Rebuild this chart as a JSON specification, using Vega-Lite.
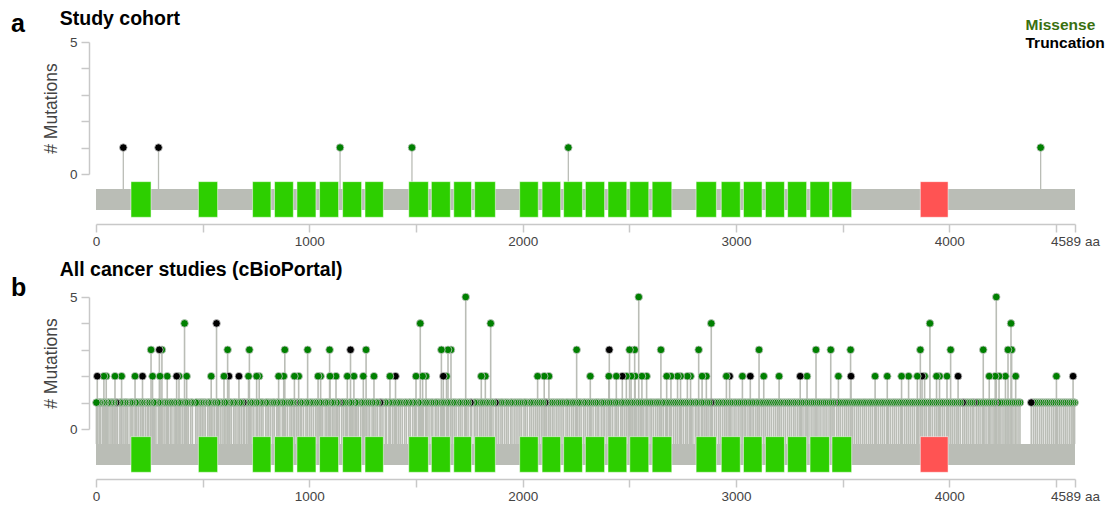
{
  "$schema": "https://vega.github.io/schema/vega-lite/v6.json",
  "padding": {"left": 11, "top": 9, "right": 4, "bottom": 2},
  "config": {
    "font": "Liberation Sans",
    "view": {"stroke": null},
    "axis": {
      "grid": false,
      "domainColor": "#c8c8c8",
      "domainWidth": 1.5,
      "tickColor": "#c8c8c8",
      "tickWidth": 1.5,
      "tickSize": 8,
      "labelColor": "#444444",
      "labelFontSize": 13.5,
      "labelFlush": false,
      "labelOverlap": false,
      "titleColor": "#444444",
      "titleFontSize": 17.5,
      "titleFontWeight": "normal"
    },
    "legend": {
      "orient": "none", "legendX": 914, "legendY": -25, "title": null,
      "symbolSize": 0, "symbolStrokeWidth": 0, "symbolOpacity": 0, "labelOffset": 0,
      "labelFontSize": 15.5, "labelFontWeight": "bold", "rowPadding": 1.3,
      "labelColor": {"expr": "datum.label == 'Missense' ? '#3a7010' : '#000000'"}
    },
    "title": {"anchor": "start", "frame": "group", "color": "#000000", "fontSize": 25, "fontWeight": "bold", "subtitleColor": "#000000", "subtitleFontSize": 19.5, "subtitleFontWeight": "bold", "subtitleFont": "Liberation Sans"}
  },
  "datasets": {
    "protein": [{"start": 0, "end": 4589}],
    "domains": [
      {"start": 164, "end": 258, "domain": "Cadherin"},
      {"start": 480, "end": 570, "domain": "Cadherin"},
      {"start": 734, "end": 820, "domain": "Cadherin"},
      {"start": 837, "end": 925, "domain": "Cadherin"},
      {"start": 942, "end": 1031, "domain": "Cadherin"},
      {"start": 1048, "end": 1137, "domain": "Cadherin"},
      {"start": 1156, "end": 1245, "domain": "Cadherin"},
      {"start": 1261, "end": 1347, "domain": "Cadherin"},
      {"start": 1466, "end": 1558, "domain": "Cadherin"},
      {"start": 1572, "end": 1661, "domain": "Cadherin"},
      {"start": 1677, "end": 1760, "domain": "Cadherin"},
      {"start": 1775, "end": 1872, "domain": "Cadherin"},
      {"start": 1986, "end": 2073, "domain": "Cadherin"},
      {"start": 2091, "end": 2178, "domain": "Cadherin"},
      {"start": 2192, "end": 2280, "domain": "Cadherin"},
      {"start": 2294, "end": 2384, "domain": "Cadherin"},
      {"start": 2400, "end": 2488, "domain": "Cadherin"},
      {"start": 2502, "end": 2591, "domain": "Cadherin"},
      {"start": 2607, "end": 2699, "domain": "Cadherin"},
      {"start": 2813, "end": 2908, "domain": "Cadherin"},
      {"start": 2931, "end": 3020, "domain": "Cadherin"},
      {"start": 3035, "end": 3122, "domain": "Cadherin"},
      {"start": 3138, "end": 3227, "domain": "Cadherin"},
      {"start": 3242, "end": 3331, "domain": "Cadherin"},
      {"start": 3347, "end": 3438, "domain": "Cadherin"},
      {"start": 3450, "end": 3542, "domain": "Cadherin"},
      {"start": 3864, "end": 3994, "domain": "Laminin_G_2"}
    ],
    "cohort": [
      {"p": 128, "n": 1, "t": "Truncation"},
      {"p": 293, "n": 1, "t": "Truncation"},
      {"p": 1144, "n": 1, "t": "Missense"},
      {"p": 1481, "n": 1, "t": "Missense"},
      {"p": 2214, "n": 1, "t": "Missense"},
      {"p": 4428, "n": 1, "t": "Missense"}
    ],
    "cbio": [
      {"p":1733,"n":5,"t":"Missense"},{"p":2544,"n":5,"t":"Missense"},{"p":4220,"n":5,"t":"Missense"},
      {"p":415,"n":4,"t":"Missense"},{"p":565,"n":4,"t":"Truncation"},{"p":1520,"n":4,"t":"Missense"},{"p":1850,"n":4,"t":"Missense"},{"p":2884,"n":4,"t":"Missense"},{"p":3909,"n":4,"t":"Missense"},{"p":4289,"n":4,"t":"Missense"},
      {"p":258,"n":3,"t":"Missense"},{"p":297,"n":3,"t":"Truncation"},{"p":309,"n":3,"t":"Missense"},{"p":617,"n":3,"t":"Missense"},{"p":719,"n":3,"t":"Missense"},{"p":885,"n":3,"t":"Missense"},{"p":992,"n":3,"t":"Missense"},{"p":1095,"n":3,"t":"Missense"},{"p":1193,"n":3,"t":"Truncation"},{"p":1266,"n":3,"t":"Missense"},{"p":1619,"n":3,"t":"Missense"},{"p":1650,"n":3,"t":"Missense"},{"p":1664,"n":3,"t":"Missense"},{"p":2253,"n":3,"t":"Missense"},{"p":2406,"n":3,"t":"Truncation"},{"p":2501,"n":3,"t":"Missense"},{"p":2525,"n":3,"t":"Missense"},{"p":2648,"n":3,"t":"Missense"},{"p":2825,"n":3,"t":"Missense"},{"p":3108,"n":3,"t":"Missense"},{"p":3375,"n":3,"t":"Missense"},{"p":3444,"n":3,"t":"Missense"},{"p":3537,"n":3,"t":"Missense"},{"p":3864,"n":3,"t":"Missense"},{"p":4006,"n":3,"t":"Missense"},{"p":4159,"n":3,"t":"Missense"},{"p":4275,"n":3,"t":"Missense"},{"p":4292,"n":3,"t":"Missense"},
      {"p":6,"n":2,"t":"Truncation"},{"p":37,"n":2,"t":"Missense"},{"p":48,"n":2,"t":"Missense"},{"p":89,"n":2,"t":"Missense"},{"p":120,"n":2,"t":"Missense"},{"p":183,"n":2,"t":"Missense"},{"p":218,"n":2,"t":"Truncation"},{"p":265,"n":2,"t":"Missense"},{"p":300,"n":2,"t":"Missense"},{"p":334,"n":2,"t":"Missense"},{"p":378,"n":2,"t":"Truncation"},{"p":389,"n":2,"t":"Missense"},{"p":425,"n":2,"t":"Missense"},{"p":540,"n":2,"t":"Missense"},{"p":600,"n":2,"t":"Missense"},{"p":623,"n":2,"t":"Truncation"},{"p":670,"n":2,"t":"Truncation"},{"p":715,"n":2,"t":"Missense"},{"p":753,"n":2,"t":"Missense"},{"p":765,"n":2,"t":"Missense"},{"p":856,"n":2,"t":"Missense"},{"p":880,"n":2,"t":"Missense"},{"p":930,"n":2,"t":"Missense"},{"p":950,"n":2,"t":"Missense"},{"p":1041,"n":2,"t":"Missense"},{"p":1053,"n":2,"t":"Missense"},{"p":1097,"n":2,"t":"Missense"},{"p":1125,"n":2,"t":"Missense"},{"p":1178,"n":2,"t":"Missense"},{"p":1209,"n":2,"t":"Missense"},{"p":1253,"n":2,"t":"Missense"},{"p":1303,"n":2,"t":"Missense"},{"p":1378,"n":2,"t":"Missense"},{"p":1404,"n":2,"t":"Truncation"},{"p":1500,"n":2,"t":"Missense"},{"p":1531,"n":2,"t":"Missense"},{"p":1547,"n":2,"t":"Missense"},{"p":1628,"n":2,"t":"Truncation"},{"p":1643,"n":2,"t":"Missense"},{"p":1806,"n":2,"t":"Missense"},{"p":1825,"n":2,"t":"Missense"},{"p":2070,"n":2,"t":"Missense"},{"p":2101,"n":2,"t":"Missense"},{"p":2123,"n":2,"t":"Missense"},{"p":2317,"n":2,"t":"Missense"},{"p":2404,"n":2,"t":"Missense"},{"p":2439,"n":2,"t":"Missense"},{"p":2467,"n":2,"t":"Truncation"},{"p":2486,"n":2,"t":"Missense"},{"p":2508,"n":2,"t":"Missense"},{"p":2527,"n":2,"t":"Missense"},{"p":2559,"n":2,"t":"Missense"},{"p":2581,"n":2,"t":"Missense"},{"p":2675,"n":2,"t":"Missense"},{"p":2695,"n":2,"t":"Missense"},{"p":2726,"n":2,"t":"Missense"},{"p":2740,"n":2,"t":"Missense"},{"p":2772,"n":2,"t":"Missense"},{"p":2787,"n":2,"t":"Missense"},{"p":2841,"n":2,"t":"Missense"},{"p":2861,"n":2,"t":"Missense"},{"p":2955,"n":2,"t":"Missense"},{"p":2970,"n":2,"t":"Truncation"},{"p":3030,"n":2,"t":"Missense"},{"p":3067,"n":2,"t":"Truncation"},{"p":3130,"n":2,"t":"Missense"},{"p":3202,"n":2,"t":"Missense"},{"p":3301,"n":2,"t":"Truncation"},{"p":3333,"n":2,"t":"Missense"},{"p":3480,"n":2,"t":"Missense"},{"p":3539,"n":2,"t":"Truncation"},{"p":3652,"n":2,"t":"Missense"},{"p":3709,"n":2,"t":"Missense"},{"p":3776,"n":2,"t":"Missense"},{"p":3809,"n":2,"t":"Missense"},{"p":3850,"n":2,"t":"Missense"},{"p":3872,"n":2,"t":"Truncation"},{"p":3884,"n":2,"t":"Missense"},{"p":3940,"n":2,"t":"Missense"},{"p":3954,"n":2,"t":"Missense"},{"p":3989,"n":2,"t":"Missense"},{"p":4041,"n":2,"t":"Truncation"},{"p":4187,"n":2,"t":"Missense"},{"p":4215,"n":2,"t":"Missense"},{"p":4233,"n":2,"t":"Missense"},{"p":4263,"n":2,"t":"Missense"},{"p":4311,"n":2,"t":"Missense"},{"p":4502,"n":2,"t":"Missense"},{"p":4580,"n":2,"t":"Truncation"},
      {"p":2,"n":1,"t":"Missense"},{"p":9,"n":1,"t":"Missense"},{"p":17,"n":1,"t":"Missense"},{"p":21,"n":1,"t":"Missense"},{"p":30,"n":1,"t":"Missense"},{"p":38,"n":1,"t":"Missense"},{"p":44,"n":1,"t":"Missense"},{"p":55,"n":1,"t":"Missense"},{"p":61,"n":1,"t":"Missense"},{"p":70,"n":1,"t":"Missense"},{"p":76,"n":1,"t":"Missense"},{"p":84,"n":1,"t":"Missense"},{"p":94,"n":1,"t":"Truncation"},{"p":101,"n":1,"t":"Missense"},{"p":112,"n":1,"t":"Missense"},{"p":118,"n":1,"t":"Missense"},{"p":127,"n":1,"t":"Missense"},{"p":136,"n":1,"t":"Missense"},{"p":141,"n":1,"t":"Missense"},{"p":149,"n":1,"t":"Missense"},{"p":160,"n":1,"t":"Missense"},{"p":168,"n":1,"t":"Missense"},{"p":173,"n":1,"t":"Missense"},{"p":185,"n":1,"t":"Missense"},{"p":191,"n":1,"t":"Missense"},{"p":199,"n":1,"t":"Missense"},{"p":208,"n":1,"t":"Missense"},{"p":216,"n":1,"t":"Missense"},{"p":222,"n":1,"t":"Missense"},{"p":231,"n":1,"t":"Missense"},{"p":240,"n":1,"t":"Missense"},{"p":247,"n":1,"t":"Missense"},{"p":255,"n":1,"t":"Missense"},{"p":268,"n":1,"t":"Missense"},{"p":274,"n":1,"t":"Missense"},{"p":281,"n":1,"t":"Missense"},{"p":292,"n":1,"t":"Missense"},{"p":299,"n":1,"t":"Missense"},{"p":305,"n":1,"t":"Missense"},{"p":314,"n":1,"t":"Missense"},{"p":323,"n":1,"t":"Missense"},{"p":331,"n":1,"t":"Missense"},{"p":340,"n":1,"t":"Missense"},{"p":349,"n":1,"t":"Missense"},{"p":356,"n":1,"t":"Missense"},{"p":366,"n":1,"t":"Missense"},{"p":373,"n":1,"t":"Missense"},{"p":384,"n":1,"t":"Missense"},{"p":392,"n":1,"t":"Missense"},{"p":398,"n":1,"t":"Missense"},{"p":407,"n":1,"t":"Missense"},{"p":418,"n":1,"t":"Missense"},{"p":426,"n":1,"t":"Missense"},{"p":433,"n":1,"t":"Missense"},{"p":444,"n":1,"t":"Missense"},{"p":452,"n":1,"t":"Missense"},{"p":467,"n":1,"t":"Missense"},{"p":474,"n":1,"t":"Missense"},{"p":483,"n":1,"t":"Missense"},{"p":491,"n":1,"t":"Missense"},{"p":498,"n":1,"t":"Missense"},
      {"p":506,"n":1,"t":"Missense"},{"p":513,"n":1,"t":"Missense"},{"p":524,"n":1,"t":"Missense"},{"p":531,"n":1,"t":"Missense"},{"p":539,"n":1,"t":"Missense"},{"p":548,"n":1,"t":"Missense"},{"p":556,"n":1,"t":"Missense"},{"p":568,"n":1,"t":"Missense"},{"p":573,"n":1,"t":"Missense"},{"p":582,"n":1,"t":"Missense"},{"p":591,"n":1,"t":"Missense"},{"p":603,"n":1,"t":"Missense"},{"p":609,"n":1,"t":"Missense"},{"p":616,"n":1,"t":"Missense"},{"p":627,"n":1,"t":"Missense"},{"p":634,"n":1,"t":"Missense"},{"p":645,"n":1,"t":"Missense"},{"p":652,"n":1,"t":"Missense"},{"p":661,"n":1,"t":"Missense"},{"p":673,"n":1,"t":"Missense"},{"p":681,"n":1,"t":"Missense"},{"p":690,"n":1,"t":"Truncation"},{"p":696,"n":1,"t":"Missense"},{"p":705,"n":1,"t":"Missense"},{"p":713,"n":1,"t":"Missense"},{"p":724,"n":1,"t":"Missense"},{"p":731,"n":1,"t":"Missense"},{"p":740,"n":1,"t":"Missense"},{"p":751,"n":1,"t":"Missense"},{"p":757,"n":1,"t":"Missense"},{"p":768,"n":1,"t":"Missense"},{"p":776,"n":1,"t":"Missense"},{"p":783,"n":1,"t":"Missense"},{"p":795,"n":1,"t":"Missense"},{"p":802,"n":1,"t":"Missense"},{"p":810,"n":1,"t":"Missense"},{"p":819,"n":1,"t":"Missense"},{"p":829,"n":1,"t":"Missense"},{"p":836,"n":1,"t":"Missense"},{"p":847,"n":1,"t":"Missense"},{"p":853,"n":1,"t":"Missense"},{"p":862,"n":1,"t":"Missense"},{"p":873,"n":1,"t":"Missense"},{"p":881,"n":1,"t":"Missense"},{"p":889,"n":1,"t":"Missense"},{"p":898,"n":1,"t":"Missense"},{"p":909,"n":1,"t":"Missense"},{"p":916,"n":1,"t":"Missense"},{"p":924,"n":1,"t":"Missense"},{"p":930,"n":1,"t":"Truncation"},{"p":939,"n":1,"t":"Missense"},{"p":947,"n":1,"t":"Missense"},{"p":958,"n":1,"t":"Missense"},{"p":964,"n":1,"t":"Missense"},{"p":973,"n":1,"t":"Missense"},{"p":984,"n":1,"t":"Missense"},{"p":991,"n":1,"t":"Missense"},
      {"p":1002,"n":1,"t":"Missense"},{"p":1010,"n":1,"t":"Missense"},{"p":1019,"n":1,"t":"Missense"},{"p":1029,"n":1,"t":"Missense"},{"p":1036,"n":1,"t":"Missense"},{"p":1047,"n":1,"t":"Missense"},{"p":1055,"n":1,"t":"Missense"},{"p":1063,"n":1,"t":"Missense"},{"p":1074,"n":1,"t":"Missense"},{"p":1082,"n":1,"t":"Missense"},{"p":1089,"n":1,"t":"Missense"},{"p":1101,"n":1,"t":"Missense"},{"p":1110,"n":1,"t":"Missense"},{"p":1116,"n":1,"t":"Missense"},{"p":1127,"n":1,"t":"Missense"},{"p":1133,"n":1,"t":"Missense"},{"p":1140,"n":1,"t":"Truncation"},{"p":1151,"n":1,"t":"Missense"},{"p":1159,"n":1,"t":"Missense"},{"p":1168,"n":1,"t":"Missense"},{"p":1175,"n":1,"t":"Missense"},{"p":1187,"n":1,"t":"Missense"},{"p":1196,"n":1,"t":"Missense"},{"p":1202,"n":1,"t":"Missense"},{"p":1215,"n":1,"t":"Missense"},{"p":1222,"n":1,"t":"Missense"},{"p":1229,"n":1,"t":"Missense"},{"p":1240,"n":1,"t":"Missense"},{"p":1248,"n":1,"t":"Missense"},{"p":1257,"n":1,"t":"Missense"},{"p":1266,"n":1,"t":"Missense"},{"p":1275,"n":1,"t":"Missense"},{"p":1283,"n":1,"t":"Missense"},{"p":1294,"n":1,"t":"Missense"},{"p":1301,"n":1,"t":"Missense"},{"p":1312,"n":1,"t":"Missense"},{"p":1320,"n":1,"t":"Missense"},{"p":1331,"n":1,"t":"Truncation"},{"p":1336,"n":1,"t":"Missense"},{"p":1345,"n":1,"t":"Missense"},{"p":1356,"n":1,"t":"Missense"},{"p":1362,"n":1,"t":"Missense"},{"p":1373,"n":1,"t":"Missense"},{"p":1381,"n":1,"t":"Missense"},{"p":1391,"n":1,"t":"Missense"},{"p":1399,"n":1,"t":"Missense"},{"p":1410,"n":1,"t":"Missense"},{"p":1419,"n":1,"t":"Missense"},{"p":1427,"n":1,"t":"Missense"},{"p":1436,"n":1,"t":"Missense"},{"p":1447,"n":1,"t":"Missense"},{"p":1455,"n":1,"t":"Missense"},{"p":1466,"n":1,"t":"Missense"},{"p":1473,"n":1,"t":"Missense"},{"p":1484,"n":1,"t":"Missense"},{"p":1492,"n":1,"t":"Missense"},
      {"p":1499,"n":1,"t":"Missense"},{"p":1511,"n":1,"t":"Missense"},{"p":1517,"n":1,"t":"Missense"},{"p":1526,"n":1,"t":"Missense"},{"p":1535,"n":1,"t":"Missense"},{"p":1545,"n":1,"t":"Missense"},{"p":1552,"n":1,"t":"Missense"},{"p":1561,"n":1,"t":"Missense"},{"p":1571,"n":1,"t":"Missense"},{"p":1579,"n":1,"t":"Missense"},{"p":1590,"n":1,"t":"Missense"},{"p":1598,"n":1,"t":"Missense"},{"p":1606,"n":1,"t":"Missense"},{"p":1616,"n":1,"t":"Missense"},{"p":1625,"n":1,"t":"Missense"},{"p":1633,"n":1,"t":"Missense"},{"p":1644,"n":1,"t":"Missense"},{"p":1652,"n":1,"t":"Missense"},{"p":1661,"n":1,"t":"Missense"},{"p":1672,"n":1,"t":"Missense"},{"p":1680,"n":1,"t":"Missense"},{"p":1688,"n":1,"t":"Missense"},{"p":1699,"n":1,"t":"Missense"},{"p":1707,"n":1,"t":"Missense"},{"p":1716,"n":1,"t":"Missense"},{"p":1727,"n":1,"t":"Missense"},{"p":1736,"n":1,"t":"Missense"},{"p":1744,"n":1,"t":"Missense"},{"p":1755,"n":1,"t":"Truncation"},{"p":1761,"n":1,"t":"Missense"},{"p":1773,"n":1,"t":"Missense"},{"p":1781,"n":1,"t":"Missense"},{"p":1789,"n":1,"t":"Missense"},{"p":1799,"n":1,"t":"Missense"},{"p":1808,"n":1,"t":"Missense"},{"p":1816,"n":1,"t":"Missense"},{"p":1826,"n":1,"t":"Missense"},{"p":1834,"n":1,"t":"Missense"},{"p":1843,"n":1,"t":"Missense"},{"p":1853,"n":1,"t":"Missense"},{"p":1861,"n":1,"t":"Missense"},{"p":1872,"n":1,"t":"Truncation"},{"p":1879,"n":1,"t":"Missense"},{"p":1888,"n":1,"t":"Missense"},{"p":1898,"n":1,"t":"Missense"},{"p":1905,"n":1,"t":"Missense"},{"p":1915,"n":1,"t":"Missense"},{"p":1924,"n":1,"t":"Missense"},{"p":1932,"n":1,"t":"Missense"},{"p":1943,"n":1,"t":"Missense"},{"p":1950,"n":1,"t":"Missense"},{"p":1960,"n":1,"t":"Missense"},{"p":1969,"n":1,"t":"Missense"},{"p":1978,"n":1,"t":"Missense"},{"p":1987,"n":1,"t":"Missense"},{"p":1995,"n":1,"t":"Missense"},
      {"p":2006,"n":1,"t":"Missense"},{"p":2013,"n":1,"t":"Missense"},{"p":2022,"n":1,"t":"Missense"},{"p":2033,"n":1,"t":"Missense"},{"p":2041,"n":1,"t":"Missense"},{"p":2050,"n":1,"t":"Missense"},{"p":2059,"n":1,"t":"Missense"},{"p":2068,"n":1,"t":"Missense"},{"p":2078,"n":1,"t":"Missense"},{"p":2087,"n":1,"t":"Missense"},{"p":2095,"n":1,"t":"Missense"},{"p":2105,"n":1,"t":"Truncation"},{"p":2111,"n":1,"t":"Missense"},{"p":2120,"n":1,"t":"Missense"},{"p":2130,"n":1,"t":"Missense"},{"p":2139,"n":1,"t":"Missense"},{"p":2147,"n":1,"t":"Missense"},{"p":2157,"n":1,"t":"Missense"},{"p":2166,"n":1,"t":"Missense"},{"p":2175,"n":1,"t":"Missense"},{"p":2184,"n":1,"t":"Missense"},{"p":2192,"n":1,"t":"Missense"},{"p":2203,"n":1,"t":"Missense"},{"p":2211,"n":1,"t":"Missense"},{"p":2220,"n":1,"t":"Missense"},{"p":2230,"n":1,"t":"Missense"},{"p":2238,"n":1,"t":"Missense"},{"p":2247,"n":1,"t":"Missense"},{"p":2258,"n":1,"t":"Missense"},{"p":2266,"n":1,"t":"Missense"},{"p":2274,"n":1,"t":"Missense"},{"p":2285,"n":1,"t":"Missense"},{"p":2293,"n":1,"t":"Missense"},{"p":2303,"n":1,"t":"Missense"},{"p":2312,"n":1,"t":"Missense"},{"p":2321,"n":1,"t":"Missense"},{"p":2330,"n":1,"t":"Missense"},{"p":2341,"n":1,"t":"Missense"},{"p":2349,"n":1,"t":"Missense"},{"p":2357,"n":1,"t":"Missense"},{"p":2368,"n":1,"t":"Missense"},{"p":2377,"n":1,"t":"Missense"},{"p":2385,"n":1,"t":"Missense"},{"p":2395,"n":1,"t":"Missense"},{"p":2405,"n":1,"t":"Missense"},{"p":2413,"n":1,"t":"Missense"},{"p":2422,"n":1,"t":"Missense"},{"p":2433,"n":1,"t":"Missense"},{"p":2441,"n":1,"t":"Missense"},{"p":2449,"n":1,"t":"Missense"},{"p":2460,"n":1,"t":"Missense"},{"p":2468,"n":1,"t":"Missense"},{"p":2477,"n":1,"t":"Missense"},{"p":2487,"n":1,"t":"Missense"},{"p":2495,"n":1,"t":"Missense"},
      {"p":2505,"n":1,"t":"Missense"},{"p":2514,"n":1,"t":"Missense"},{"p":2522,"n":1,"t":"Missense"},{"p":2532,"n":1,"t":"Missense"},{"p":2541,"n":1,"t":"Missense"},{"p":2551,"n":1,"t":"Missense"},{"p":2559,"n":1,"t":"Missense"},{"p":2568,"n":1,"t":"Missense"},{"p":2578,"n":1,"t":"Missense"},{"p":2587,"n":1,"t":"Missense"},{"p":2597,"n":1,"t":"Missense"},{"p":2605,"n":1,"t":"Missense"},{"p":2614,"n":1,"t":"Missense"},{"p":2624,"n":1,"t":"Missense"},{"p":2633,"n":1,"t":"Missense"},{"p":2641,"n":1,"t":"Missense"},{"p":2652,"n":1,"t":"Missense"},{"p":2660,"n":1,"t":"Missense"},{"p":2670,"n":1,"t":"Missense"},{"p":2679,"n":1,"t":"Missense"},{"p":2688,"n":1,"t":"Missense"},{"p":2697,"n":1,"t":"Missense"},{"p":2707,"n":1,"t":"Missense"},{"p":2716,"n":1,"t":"Missense"},{"p":2725,"n":1,"t":"Missense"},{"p":2735,"n":1,"t":"Missense"},{"p":2744,"n":1,"t":"Missense"},{"p":2753,"n":1,"t":"Missense"},{"p":2763,"n":1,"t":"Missense"},{"p":2771,"n":1,"t":"Missense"},{"p":2781,"n":1,"t":"Missense"},{"p":2790,"n":1,"t":"Missense"},{"p":2798,"n":1,"t":"Missense"},{"p":2809,"n":1,"t":"Missense"},{"p":2817,"n":1,"t":"Missense"},{"p":2826,"n":1,"t":"Missense"},{"p":2837,"n":1,"t":"Missense"},{"p":2845,"n":1,"t":"Missense"},{"p":2854,"n":1,"t":"Missense"},{"p":2864,"n":1,"t":"Missense"},{"p":2873,"n":1,"t":"Missense"},{"p":2882,"n":1,"t":"Truncation"},{"p":2889,"n":1,"t":"Missense"},{"p":2899,"n":1,"t":"Missense"},{"p":2908,"n":1,"t":"Missense"},{"p":2918,"n":1,"t":"Missense"},{"p":2926,"n":1,"t":"Missense"},{"p":2936,"n":1,"t":"Missense"},{"p":2945,"n":1,"t":"Missense"},{"p":2954,"n":1,"t":"Missense"},{"p":2963,"n":1,"t":"Missense"},{"p":2973,"n":1,"t":"Missense"},{"p":2981,"n":1,"t":"Missense"},{"p":2991,"n":1,"t":"Missense"},
      {"p":3000,"n":1,"t":"Missense"},{"p":3010,"n":1,"t":"Missense"},{"p":3019,"n":1,"t":"Missense"},{"p":3028,"n":1,"t":"Missense"},{"p":3038,"n":1,"t":"Missense"},{"p":3046,"n":1,"t":"Missense"},{"p":3056,"n":1,"t":"Missense"},{"p":3065,"n":1,"t":"Missense"},{"p":3075,"n":1,"t":"Missense"},{"p":3083,"n":1,"t":"Missense"},{"p":3093,"n":1,"t":"Missense"},{"p":3101,"n":1,"t":"Missense"},{"p":3111,"n":1,"t":"Missense"},{"p":3120,"n":1,"t":"Missense"},{"p":3129,"n":1,"t":"Missense"},{"p":3139,"n":1,"t":"Missense"},{"p":3148,"n":1,"t":"Missense"},{"p":3157,"n":1,"t":"Missense"},{"p":3166,"n":1,"t":"Missense"},{"p":3176,"n":1,"t":"Missense"},{"p":3185,"n":1,"t":"Missense"},{"p":3194,"n":1,"t":"Missense"},{"p":3204,"n":1,"t":"Missense"},{"p":3212,"n":1,"t":"Missense"},{"p":3222,"n":1,"t":"Missense"},{"p":3231,"n":1,"t":"Missense"},{"p":3241,"n":1,"t":"Missense"},{"p":3250,"n":1,"t":"Missense"},{"p":3259,"n":1,"t":"Missense"},{"p":3269,"n":1,"t":"Missense"},{"p":3277,"n":1,"t":"Missense"},{"p":3287,"n":1,"t":"Missense"},{"p":3296,"n":1,"t":"Missense"},{"p":3306,"n":1,"t":"Missense"},{"p":3314,"n":1,"t":"Missense"},{"p":3324,"n":1,"t":"Missense"},{"p":3333,"n":1,"t":"Missense"},{"p":3342,"n":1,"t":"Missense"},{"p":3352,"n":1,"t":"Missense"},{"p":3361,"n":1,"t":"Missense"},{"p":3370,"n":1,"t":"Missense"},{"p":3380,"n":1,"t":"Missense"},{"p":3389,"n":1,"t":"Missense"},{"p":3398,"n":1,"t":"Missense"},{"p":3408,"n":1,"t":"Missense"},{"p":3417,"n":1,"t":"Missense"},{"p":3426,"n":1,"t":"Missense"},{"p":3436,"n":1,"t":"Missense"},{"p":3445,"n":1,"t":"Missense"},{"p":3454,"n":1,"t":"Missense"},{"p":3460,"n":1,"t":"Truncation"},{"p":3471,"n":1,"t":"Missense"},{"p":3481,"n":1,"t":"Missense"},{"p":3490,"n":1,"t":"Missense"},
      {"p":3500,"n":1,"t":"Missense"},{"p":3510,"n":1,"t":"Missense"},{"p":3519,"n":1,"t":"Missense"},{"p":3528,"n":1,"t":"Missense"},{"p":3537,"n":1,"t":"Missense"},{"p":3547,"n":1,"t":"Missense"},{"p":3556,"n":1,"t":"Missense"},{"p":3566,"n":1,"t":"Missense"},{"p":3575,"n":1,"t":"Missense"},{"p":3584,"n":1,"t":"Missense"},{"p":3594,"n":1,"t":"Missense"},{"p":3603,"n":1,"t":"Missense"},{"p":3612,"n":1,"t":"Missense"},{"p":3622,"n":1,"t":"Missense"},{"p":3631,"n":1,"t":"Missense"},{"p":3640,"n":1,"t":"Missense"},{"p":3650,"n":1,"t":"Missense"},{"p":3659,"n":1,"t":"Missense"},{"p":3668,"n":1,"t":"Missense"},{"p":3678,"n":1,"t":"Missense"},{"p":3687,"n":1,"t":"Missense"},{"p":3696,"n":1,"t":"Missense"},{"p":3706,"n":1,"t":"Missense"},{"p":3715,"n":1,"t":"Missense"},{"p":3724,"n":1,"t":"Missense"},{"p":3734,"n":1,"t":"Missense"},{"p":3743,"n":1,"t":"Missense"},{"p":3752,"n":1,"t":"Missense"},{"p":3762,"n":1,"t":"Missense"},{"p":3771,"n":1,"t":"Missense"},{"p":3780,"n":1,"t":"Missense"},{"p":3790,"n":1,"t":"Missense"},{"p":3799,"n":1,"t":"Missense"},{"p":3808,"n":1,"t":"Missense"},{"p":3818,"n":1,"t":"Missense"},{"p":3827,"n":1,"t":"Missense"},{"p":3836,"n":1,"t":"Missense"},{"p":3846,"n":1,"t":"Missense"},{"p":3855,"n":1,"t":"Missense"},{"p":3864,"n":1,"t":"Missense"},{"p":3874,"n":1,"t":"Missense"},{"p":3883,"n":1,"t":"Missense"},{"p":3892,"n":1,"t":"Missense"},{"p":3902,"n":1,"t":"Missense"},{"p":3911,"n":1,"t":"Missense"},{"p":3920,"n":1,"t":"Missense"},{"p":3930,"n":1,"t":"Missense"},{"p":3939,"n":1,"t":"Missense"},{"p":3948,"n":1,"t":"Missense"},{"p":3958,"n":1,"t":"Missense"},{"p":3967,"n":1,"t":"Missense"},{"p":3976,"n":1,"t":"Missense"},{"p":3986,"n":1,"t":"Missense"},{"p":3995,"n":1,"t":"Missense"},
      {"p":4004,"n":1,"t":"Missense"},{"p":4014,"n":1,"t":"Missense"},{"p":4023,"n":1,"t":"Missense"},{"p":4032,"n":1,"t":"Missense"},{"p":4042,"n":1,"t":"Missense"},{"p":4051,"n":1,"t":"Missense"},{"p":4062,"n":1,"t":"Truncation"},{"p":4070,"n":1,"t":"Missense"},{"p":4079,"n":1,"t":"Missense"},{"p":4088,"n":1,"t":"Missense"},{"p":4098,"n":1,"t":"Missense"},{"p":4107,"n":1,"t":"Missense"},{"p":4115,"n":1,"t":"Truncation"},{"p":4126,"n":1,"t":"Missense"},{"p":4135,"n":1,"t":"Missense"},{"p":4144,"n":1,"t":"Missense"},{"p":4154,"n":1,"t":"Missense"},{"p":4163,"n":1,"t":"Missense"},{"p":4172,"n":1,"t":"Missense"},{"p":4182,"n":1,"t":"Missense"},{"p":4191,"n":1,"t":"Missense"},{"p":4200,"n":1,"t":"Missense"},{"p":4209,"n":1,"t":"Missense"},{"p":4215,"n":1,"t":"Truncation"},{"p":4228,"n":1,"t":"Missense"},{"p":4238,"n":1,"t":"Missense"},{"p":4247,"n":1,"t":"Missense"},{"p":4256,"n":1,"t":"Missense"},{"p":4266,"n":1,"t":"Missense"},{"p":4275,"n":1,"t":"Missense"},{"p":4284,"n":1,"t":"Missense"},{"p":4294,"n":1,"t":"Missense"},{"p":4303,"n":1,"t":"Missense"},{"p":4312,"n":1,"t":"Missense"},{"p":4322,"n":1,"t":"Missense"},{"p":4331,"n":1,"t":"Missense"},{"p":4384,"n":1,"t":"Truncation"},{"p":4394,"n":1,"t":"Missense"},{"p":4403,"n":1,"t":"Missense"},{"p":4412,"n":1,"t":"Missense"},{"p":4422,"n":1,"t":"Missense"},{"p":4431,"n":1,"t":"Missense"},{"p":4440,"n":1,"t":"Missense"},{"p":4450,"n":1,"t":"Missense"},{"p":4459,"n":1,"t":"Missense"},{"p":4468,"n":1,"t":"Missense"},{"p":4478,"n":1,"t":"Missense"},{"p":4487,"n":1,"t":"Missense"},{"p":4496,"n":1,"t":"Missense"},{"p":4506,"n":1,"t":"Missense"},{"p":4515,"n":1,"t":"Missense"},{"p":4524,"n":1,"t":"Missense"},{"p":4534,"n":1,"t":"Missense"},{"p":4543,"n":1,"t":"Missense"},{"p":4552,"n":1,"t":"Missense"},{"p":4562,"n":1,"t":"Missense"},{"p":4571,"n":1,"t":"Missense"},{"p":4580,"n":1,"t":"Missense"},{"p":4587,"n":1,"t":"Missense"}
    ]
  },
  "spacing": 12,
  "vconcat": [
    {
      "width": 979,
      "height": 182,
      "title": {"text": "a", "subtitle": "\u200c\u00a0\u00a0\u00a0\u00a0\u00a0\u00a0\u00a0\u00a0\u00a0Study cohort", "subtitlePadding": -27, "dx": -85, "offset": -5},
      "layer": [
        {
          "data": {"name": "cohort"},
          "mark": {"type": "rule", "color": "#babdb6", "strokeWidth": 1.3},
          "encoding": {
            "x": {"field": "p", "type": "quantitative", "scale": {"domain": [0, 4589], "nice": false, "zero": false},
              "axis": {"values": [0, 500, 1000, 1500, 2000, 2500, 3000, 3500, 4000, 4500, 4589], "tickCount": 20, "labelExpr": "datum.value == 4589 ? '4589 aa' : (datum.value % 1000 == 0 ? format(datum.value, 'd') : '')", "title": null, "labelPadding": 2, "labelOverlap": false}},
            "y": {"field": "n", "type": "quantitative", "scale": {"domain": [0, 5], "range": [132, 0], "nice": false, "zero": false},
              "axis": {"values": [0, 1, 2, 3, 4, 5], "tickCount": 10, "labelExpr": "datum.value == 0 || datum.value == 5 ? format(datum.value, 'd') : ''", "labelOverlap": false, "title": "# Mutations", "offset": 7, "labelPadding": 4, "titlePadding": 9}},
            "y2": {"datum": -0.568}
          }
        },
        {
          "data": {"name": "protein"},
          "mark": {"type": "rect", "color": "#babdb6"},
          "encoding": {"x": {"field": "start", "type": "quantitative"}, "x2": {"field": "end"}, "y": {"datum": -0.568}, "y2": {"datum": -1.36}}
        },
        {
          "data": {"name": "domains"},
          "mark": {"type": "rect", "stroke": "#ffffff", "strokeOpacity": 0.5, "strokeWidth": 1},
          "encoding": {
            "x": {"field": "start", "type": "quantitative"}, "x2": {"field": "end"},
            "y": {"datum": -0.29}, "y2": {"datum": -1.64},
            "fill": {"field": "domain", "type": "nominal", "scale": {"domain": ["Cadherin", "Laminin_G_2"], "range": ["#2dcf00", "#ff5353"]}, "legend": null}
          }
        },
        {
          "data": {"name": "cohort"},
          "mark": {"type": "point", "filled": true, "size": 58, "opacity": 1, "stroke": "#c8c8c8", "strokeWidth": 0.8},
          "encoding": {
            "x": {"field": "p", "type": "quantitative"},
            "y": {"field": "n", "type": "quantitative"},
            "color": {"field": "t", "type": "nominal", "scale": {"domain": ["Missense", "Truncation"], "range": ["#008000", "#000000"]}}
          }
        }
      ]
    },
    {
      "width": 979,
      "height": 182,
      "title": {"text": "b", "subtitle": "\u200c\u00a0\u00a0\u00a0\u00a0\u00a0\u00a0\u00a0\u00a0\u00a0All cancer studies (cBioPortal)", "subtitlePadding": -40, "dx": -85, "offset": -27},
      "layer": [
        {
          "data": {"name": "cbio"},
          "mark": {"type": "rule", "color": "#babdb6", "strokeWidth": 1.6},
          "encoding": {
            "x": {"field": "p", "type": "quantitative", "scale": {"domain": [0, 4589], "nice": false, "zero": false},
              "axis": {"values": [0, 500, 1000, 1500, 2000, 2500, 3000, 3500, 4000, 4500, 4589], "tickCount": 20, "labelExpr": "datum.value == 4589 ? '4589 aa' : (datum.value % 1000 == 0 ? format(datum.value, 'd') : '')", "title": null, "labelPadding": 2, "labelOverlap": false}},
            "y": {"field": "n", "type": "quantitative", "scale": {"domain": [0, 5], "range": [132, 0], "nice": false, "zero": false},
              "axis": {"values": [0, 1, 2, 3, 4, 5], "tickCount": 10, "labelExpr": "datum.value == 0 || datum.value == 5 ? format(datum.value, 'd') : ''", "labelOverlap": false, "title": "# Mutations", "offset": 7, "labelPadding": 4, "titlePadding": 9}},
            "y2": {"datum": -0.568}
          }
        },
        {
          "data": {"name": "protein"},
          "mark": {"type": "rect", "color": "#babdb6"},
          "encoding": {"x": {"field": "start", "type": "quantitative"}, "x2": {"field": "end"}, "y": {"datum": -0.568}, "y2": {"datum": -1.36}}
        },
        {
          "data": {"name": "domains"},
          "mark": {"type": "rect", "stroke": "#ffffff", "strokeOpacity": 0.5, "strokeWidth": 1},
          "encoding": {
            "x": {"field": "start", "type": "quantitative"}, "x2": {"field": "end"},
            "y": {"datum": -0.29}, "y2": {"datum": -1.64},
            "fill": {"field": "domain", "type": "nominal", "scale": {"domain": ["Cadherin", "Laminin_G_2"], "range": ["#2dcf00", "#ff5353"]}, "legend": null}
          }
        },
        {
          "data": {"name": "cbio"},
          "mark": {"type": "point", "filled": true, "size": 58, "opacity": 1, "stroke": "#c8c8c8", "strokeWidth": 0.8},
          "encoding": {
            "x": {"field": "p", "type": "quantitative"},
            "y": {"field": "n", "type": "quantitative"},
            "order": {"field": "p", "type": "quantitative", "sort": "descending"},
            "color": {"field": "t", "type": "nominal"}
          }
        }
      ]
    }
  ]
}
